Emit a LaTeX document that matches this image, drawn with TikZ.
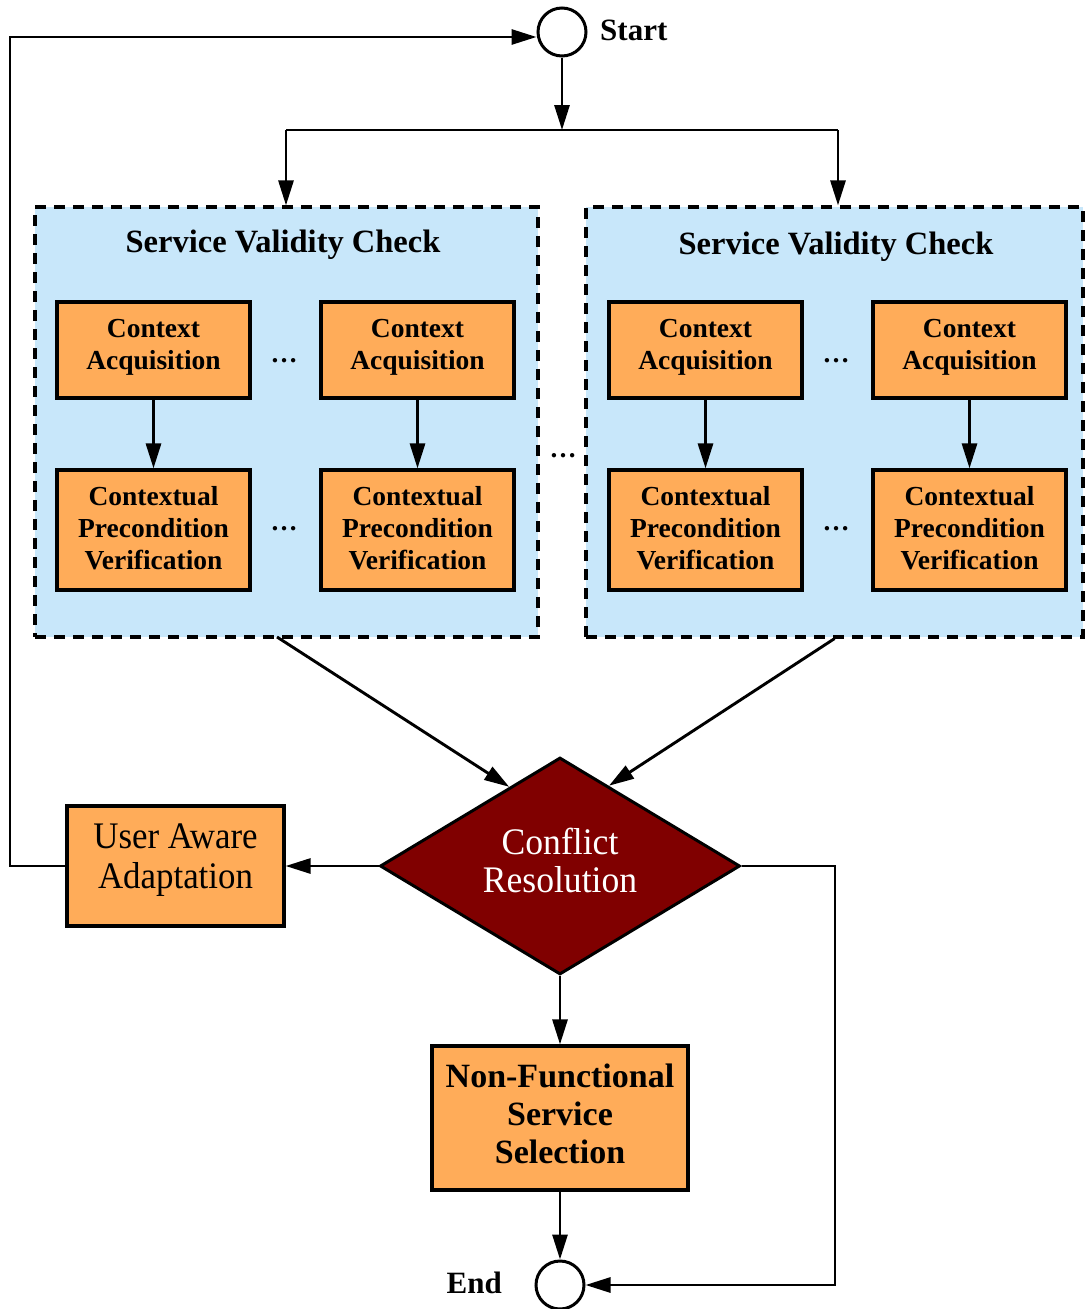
\documentclass[tikz,border=0pt]{standalone}
\usepackage{fontspec}
\setmainfont{Liberation Serif}
\usepackage{graphicx}
\usetikzlibrary{shapes.geometric,arrows.meta,calc}

\definecolor{boxorange}{HTML}{FFAC59}
\definecolor{panelblue}{HTML}{C8E7FA}
\definecolor{decisionred}{HTML}{800000}

\begin{document}
\begin{tikzpicture}[x=1pt,y=-1pt,
  flow/.style={line width=2.9pt,miter limit=4,-{Triangle[length=25pt,width=15pt]}},
  plain/.style={line width=2.9pt},
  task/.style={draw,line width=3.2pt,fill=boxorange,align=center,inner sep=0pt,
    font=\fontsize{27.5}{32}\selectfont\bfseries},
  panel/.style={draw,line width=3.2pt,dash pattern=on 11pt off 8pt,fill=panelblue,inner sep=0pt},
  terminal/.style={draw,circle,line width=3pt,minimum size=48pt,inner sep=0pt,fill=white},
  label/.style={font=\fontsize{31}{36}\selectfont\bfseries,inner sep=0pt},
  heading/.style={font=\fontsize{32.5}{36}\selectfont\bfseries,inner sep=0pt},
  gap/.style={font=\fontsize{27}{30}\selectfont\bfseries,inner sep=0pt,anchor=base}
]
\useasboundingbox (0,0) rectangle (1085,1309);

% start / end
\node[terminal] (start) at (562,32) {};
\node[label,anchor=base west] (startlbl) at (600,40) {Start};

% parallel validity-check panels
\node[panel,minimum width=503pt,minimum height=430pt] (panelL) at (286.5,422) {};
\node[panel,minimum width=497pt,minimum height=430pt] (panelR) at (834.5,422) {};
\node[heading] (titleL) at (283,245) {Service Validity Check};
\node[heading] (titleR) at (836,247) {Service Validity Check};

% context acquisition / precondition verification pairs
\foreach \n/\x in {a/153.5,b/417.5,c/705.5,d/969.5}{
  \node[task,minimum width=193pt,minimum height=96pt,text depth=12pt] (ca\n) at (\x,350) {Context\\Acquisition};
  \node[task,minimum width=193pt,minimum height=120pt,text depth=4pt] (pv\n) at (\x,530) {Contextual\\Precondition\\Verification};
  \draw[flow] (ca\n) -- (pv\n);
}
\node[gap] (d1) at (284,362) {\dots};
\node[gap] (d2) at (284,530) {\dots};
\node[gap] (d3) at (836,362) {\dots};
\node[gap] (d4) at (836,530) {\dots};
\node[gap] (d5) at (563,457) {\dots};

% decision and follow-up steps
\node[diamond,draw,line width=3pt,fill=decisionred,inner sep=0pt,
  minimum width=360pt,minimum height=217pt,aspect=1.66,text=white,align=center,
  text depth=12pt,font=\fontsize{37.5}{38}\selectfont] (cr) at (560,866)
  {\scalebox{0.95}[1]{Conflict}\\\scalebox{0.95}[1]{Resolution}};
\node[task,minimum width=217pt,minimum height=120pt,text depth=20pt,font=\fontsize{37.5}{40}\selectfont] (ua) at (175.5,866)
  {\scalebox{0.93}[1]{User Aware}\\\scalebox{0.93}[1]{Adaptation}};
\node[task,minimum width=256pt,minimum height=144pt,text depth=8pt,font=\fontsize{34}{38}\selectfont\bfseries] (nfs) at (560,1118)
  {Non-Functional\\Service\\Selection};
\node[terminal] (end) at (560,1285) {};
\node[label,anchor=base east] (endlbl) at (502,1293) {End};

% connectors
\coordinate (fork) at (562,130);
\coordinate (forkL) at (286,130);
\coordinate (forkR) at (838,130);
\draw[flow] (start) -- (fork);
\draw[plain] (forkL) -- (forkR);
\draw[flow] (forkL) -- (forkL |- panelL.north);
\draw[flow] (forkR) -- (forkR |- panelR.north);
\draw[flow] (277,637) -- ($(cr.north)!0.28!(cr.west)$);
\draw[flow] (panelR.south) -- ($(cr.north)!0.27!(cr.east)$);
\draw[flow] (cr.west) -- (ua.east);
\draw[flow] (cr.south) -- (nfs.north);
\draw[flow] (nfs.south) -- (end.north);
\coordinate (loopB) at (10,866);
\coordinate (loopT) at (10,37);
\draw[flow] (ua.west) -- (loopB) -- (loopT) -- (loopT -| start.west);
\coordinate (exitR) at (835,866);
\coordinate (exitB) at (835,1285);
\draw[flow] (cr.east) -- (exitR) -- (exitB) -- (end.east);
\end{tikzpicture}
\end{document}
